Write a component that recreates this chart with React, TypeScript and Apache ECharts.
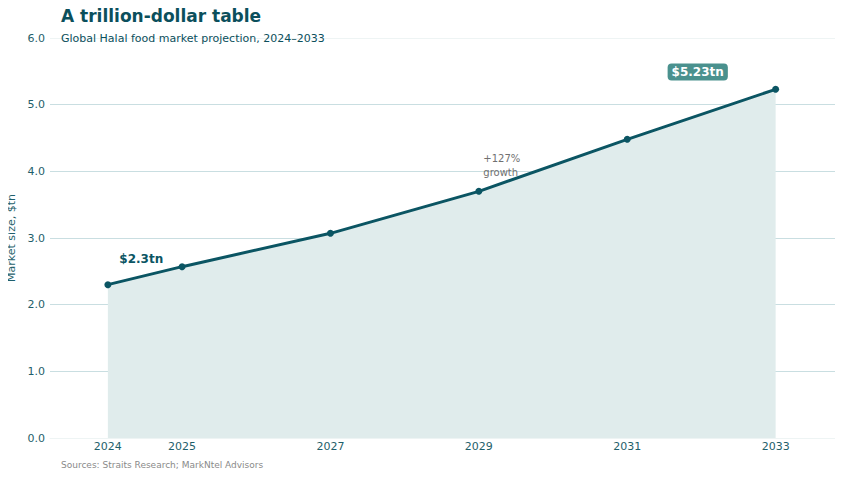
import React, { useEffect, useRef } from "react";
import * as echarts from "echarts";

const years = [2024, 2025, 2027, 2029, 2031, 2033];
const marketSize = [2.3, 2.57, 3.07, 3.7, 4.48, 5.23];

const DARK = "#0b5563";
const FONT = "DejaVu Sans";

export default function App() {
  const ref = useRef<HTMLDivElement>(null);
  useEffect(() => {
    const chart = echarts.init(ref.current!, undefined, { renderer: "svg" });
    chart.setOption({
      animation: false,
      textStyle: { fontFamily: FONT },
      title: [
        {
          text: "A trillion-dollar table",
          left: 56,
          top: 2,
          textStyle: { fontFamily: FONT, fontSize: 17, fontWeight: "bold", color: "#0b4f5c" },
        },
        {
          text: "Global Halal food market projection, 2024–2033",
          left: 56,
          top: 28,
          textStyle: { fontFamily: FONT, fontSize: 11, fontWeight: "normal", color: "#0b4f5c" },
        },
        {
          text: "Sources: Straits Research; MarkNtel Advisors",
          left: 56,
          top: 455,
          textStyle: { fontFamily: FONT, fontSize: 9, fontWeight: "normal", color: "#8a8a8a" },
        },
      ],
      grid: { left: 50, right: 8, top: 38, bottom: 39, containLabel: false, outerBoundsMode: "none" },
      xAxis: {
        type: "value",
        min: 2023.22,
        max: 2033.8,
        axisLine: { show: true, lineStyle: { color: "#eef4f4", width: 1 } },
        axisTick: { show: false },
        splitLine: { show: false },
        axisLabel: {
          customValues: years,
          formatter: (v: number) => String(v),
          color: "#1f5f6b",
          fontSize: 11,
          fontFamily: FONT,
          margin: 3,
        },
      },
      yAxis: {
        type: "value",
        min: 0,
        max: 6,
        interval: 1,
        name: "Market size, $tn",
        nameLocation: "middle",
        nameGap: 31,
        nameTextStyle: { color: "#1f5f6b", fontSize: 11, fontFamily: FONT },
        axisLine: { show: false },
        axisTick: { show: false },
        axisLabel: {
          formatter: (v: number) => v.toFixed(1),
          color: "#1f5f6b",
          fontSize: 11,
          fontFamily: FONT,
          margin: 5,
        },
        splitLine: {
          lineStyle: {
            color: ["#eef4f4", "#c9dee1", "#c9dee1", "#c9dee1", "#c9dee1", "#c9dee1", "#eef4f4"],
            width: 1,
          },
        },
      },
      series: [
        {
          type: "line",
          data: years.map((y, i) => [y, marketSize[i]]),
          symbol: "circle",
          symbolSize: 7,
          lineStyle: { color: DARK, width: 3 },
          itemStyle: { color: DARK },
          areaStyle: { color: "#e0ecec", opacity: 1 },
          z: 3,
          markPoint: {
            symbol: "circle",
            symbolSize: 0,
            silent: true,
            data: [
              {
                coord: [2024.45, 2.69],
                label: {
                  show: true,
                  formatter: "$2.3tn",
                  color: DARK,
                  fontWeight: "bold",
                  fontSize: 12,
                  fontFamily: FONT,
                  position: "inside",
                },
              },
              {
                coord: [2029.06, 4.09],
                label: {
                  show: true,
                  formatter: "+127%\ngrowth",
                  color: "#707070",
                  fontSize: 10,
                  lineHeight: 14,
                  fontFamily: FONT,
                  position: "right",
                  distance: 0,
                  align: "left",
                },
              },
              {
                coord: [2031.95, 5.49],
                label: {
                  show: true,
                  formatter: "$5.23tn",
                  color: "#ffffff",
                  fontWeight: "bold",
                  fontSize: 12,
                  fontFamily: FONT,
                  position: "inside",
                  backgroundColor: "#4a918e",
                  borderRadius: 4,
                  padding: [3, 4, 2, 4],
                },
              },
            ],
          },
        },
      ],
    });
    return () => chart.dispose();
  }, []);
  return <div ref={ref} style={{ width: 843, height: 477, margin: -8 }} />;
}
